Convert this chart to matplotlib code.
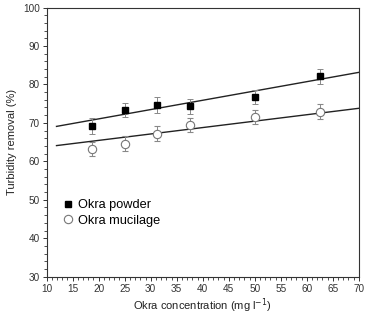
import numpy as np
import matplotlib
matplotlib.use('Agg')
from matplotlib import pyplot as plt
from matplotlib.ticker import MultipleLocator

plt.rcParams['font.family'] = ['Liberation Sans', 'DejaVu Sans']

conc = [18.75, 25, 31.25, 37.5, 50, 62.5]
powder = [69.2, 73.3, 74.6, 74.3, 76.8, 82.1]
powder_err = [2.0, 1.9, 2.0, 1.9, 1.8, 2.0]
mucilage = [63.2, 64.6, 67.2, 69.4, 71.6, 72.9]
mucilage_err = [1.9, 1.9, 1.9, 1.9, 1.8, 1.9]

# fitted lines as shown in the figure (slope, intercept)
powder_fit = (0.242, 66.2)
mucilage_fit = (0.167, 62.1)
fit_range = (11.9, 70)

fig = plt.figure(figsize=(3.70, 3.14), dpi=100)
ax = fig.add_axes([0.126, 0.119, 0.844, 0.857])

xf = np.array(fit_range)
for k, b in (powder_fit, mucilage_fit):
    ax.plot(xf, k*xf + b, color='#222222', lw=1.0, zorder=2)

ax.errorbar(conc, powder, yerr=powder_err, fmt='s', ms=5, color='black',
            ecolor='#888888', elinewidth=0.7, capsize=2, capthick=0.7,
            label='Okra powder', zorder=3)
ax.errorbar(conc, mucilage, yerr=mucilage_err, fmt='o', ms=6, mfc='white',
            mec='#777777', mew=0.8, ecolor='#888888', elinewidth=0.7,
            capsize=2, capthick=0.7, label='Okra mucilage', zorder=3)

ax.set_xlim(10, 70)
ax.set_ylim(30, 100)
ax.xaxis.set_major_locator(MultipleLocator(5))
ax.xaxis.set_minor_locator(MultipleLocator(1))
ax.yaxis.set_major_locator(MultipleLocator(10))
ax.yaxis.set_minor_locator(MultipleLocator(2))
ax.tick_params(which='major', length=3, width=0.7, labelsize=7.2, colors='#333333', pad=2)
ax.tick_params(which='minor', length=2, width=0.6, colors='#333333')
for s in ax.spines.values():
    s.set_linewidth(0.8)
    s.set_color('#333333')

ax.set_xlabel('Okra concentration (mg l$^{-1}$)', fontsize=8, color='#222222', labelpad=2)
ax.set_ylabel('Turbidity removal (%)', fontsize=8, color='#222222')

handles, labels = ax.get_legend_handles_labels()
handles = [h[0] for h in handles]
ax.legend(handles, labels, loc='upper left', bbox_to_anchor=(0.01, 0.33),
          frameon=False, fontsize=9.2, handletextpad=0.3, labelspacing=0.25,
          handlelength=1.0)

fig.savefig('out.png', dpi=100)
